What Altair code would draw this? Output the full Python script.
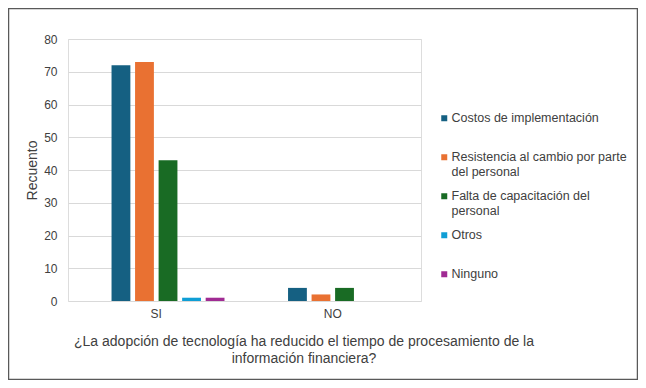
import altair as alt
import pandas as pd

categorias = ["SI", "NO"]
series = [
    "Costos de implementación",
    "Resistencia al cambio por parte del personal",
    "Falta de capacitación del personal",
    "Otros",
    "Ninguno",
]
valores_si = [72, 73, 43, 1, 1]
valores_no = [4, 2, 4, 0, 0]
colores = ["#156082", "#E97132", "#196B24", "#0F9ED5", "#A02B93"]
lineas_leyenda = {
    "Resistencia al cambio por parte del personal": ["Resistencia al cambio por parte", "del personal"],
    "Falta de capacitación del personal": ["Falta de capacitación del", "personal"],
}
titulo_x = [
    "¿La adopción de tecnología ha reducido el tiempo de procesamiento de la",
    "información financiera?",
]
ticks_y = [0, 10, 20, 30, 40, 50, 60, 70, 80]

rows = []
for cat, vals in zip(categorias, [valores_si, valores_no]):
    for s, v in zip(series, vals):
        rows.append({"cat": cat, "serie": s, "valor": v})
df = pd.DataFrame(rows)

label_expr = ""
for k, lines in lineas_leyenda.items():
    arr = "[" + ",".join("'" + l + "'" for l in lines) + "]"
    label_expr += f"datum.label == '{k}' ? {arr} : "
label_expr += "datum.label"

FONT = "Liberation Sans"
TXT = "#404040"

bars = alt.Chart(df).mark_bar().encode(
    x=alt.X(
        "cat:N",
        sort=categorias,
        scale=alt.Scale(paddingInner=0.2, paddingOuter=0.1),
        axis=alt.Axis(
            title=titulo_x,
            titleFont=FONT,
            titleFontSize=14,
            titleFontWeight="normal",
            titleColor=TXT,
            titleX=235.5,
            titleY=44,
            titleAlign="center",
            titleBaseline="alphabetic",
            titleLineHeight=17,
            labelFont=FONT,
            labelFontSize=12,
            labelColor=TXT,
            labelAngle=0,
            labelPadding=7,
            labelBaseline="top",
            ticks=False,
            domain=False,
        ),
    ),
    xOffset=alt.XOffset(
        "serie:N",
        scale=alt.Scale(domain=[""] + series, paddingInner=0.2, paddingOuter=0.1),
    ),
    y=alt.Y(
        "valor:Q",
        scale=alt.Scale(domain=[0, 80]),
        axis=alt.Axis(
            values=ticks_y,
            title="Recuento",
            titleFont=FONT,
            titleFontSize=14,
            titleFontWeight="normal",
            titleColor=TXT,
            titleAngle=-90,
            titleX=-36,
            titleY=131,
            titleAlign="center",
            titleBaseline="middle",
            labelFont=FONT,
            labelFontSize=12,
            labelColor=TXT,
            labelPadding=11,
            ticks=False,
            domain=False,
            grid=True,
            gridColor="#d9d9d9",
            gridWidth=1,
        ),
    ),
    color=alt.Color(
        "serie:N",
        scale=alt.Scale(domain=series, range=colores),
        legend=alt.Legend(
            title=None,
            orient="none",
            legendX=370,
            legendY=73,
            symbolType="square",
            symbolSize=36,
            symbolStrokeWidth=0,
            labelFont=FONT,
            labelFontSize=12.5,
            labelColor=TXT,
            labelOffset=1,
            labelLimit=300,
            labelExpr=label_expr,
            gridAlign="all",
            rowPadding=11,
            padding=0,
        ),
    ),
)

border = alt.Chart(pd.DataFrame({"a": [0]})).mark_rect(
    fill="transparent", stroke="#595959", strokeWidth=1.5
).encode(
    x=alt.value(-59.5), x2=alt.value(569.5), y=alt.value(-30.5), y2=alt.value(340.5)
)

chart = alt.layer(bars, border).properties(
    width=353,
    height=262,
    autosize=alt.AutoSizeParams(type="none"),
    padding={"left": 60, "top": 31, "right": 217, "bottom": 79},
).configure_view(stroke=None).configure(background="white")

chart.save("out.html", embed_options={"renderer": "svg", "actions": False})
